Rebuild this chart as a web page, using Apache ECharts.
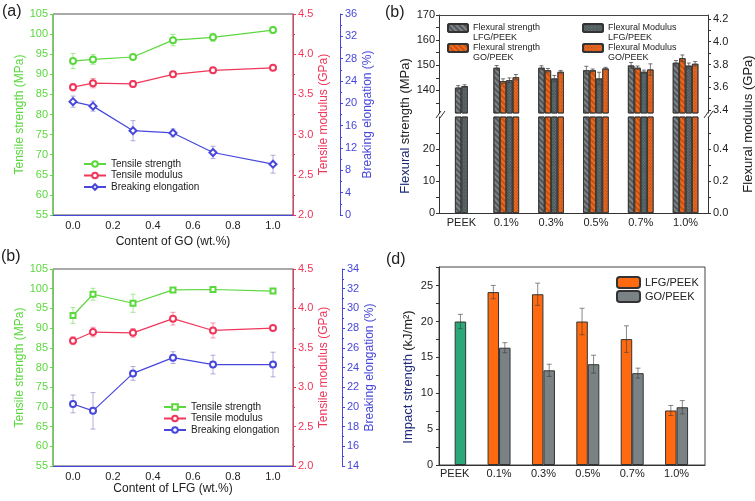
<!DOCTYPE html>
<html><head><meta charset="utf-8">
<script src="https://cdn.jsdelivr.net/npm/echarts@6/dist/echarts.min.js"></script>
<style>html,body{margin:0;padding:0;background:#fff}#c{width:755px;height:501px}</style>
</head><body><div id="c"></div>
<script>
// ================= DATA =================
// (a) GO/PEEK tensile
const goContent = [0, 0.1, 0.3, 0.5, 0.7, 1.0];
const goTensileStrength = [93.3, 93.7, 94.3, 98.5, 99.2, 101.0];
const goTensileStrengthErr = [1.9, 1.2, 0.4, 1.4, 1.0, 0.8];
const goTensileModulus = [3.59, 3.64, 3.63, 3.75, 3.80, 3.83];
const goTensileModulusErr = [0.045, 0.058, 0.04, 0.02, 0.025, 0.015];
const goElongation = [20.3, 19.5, 15.1, 14.7, 11.2, 9.1];
const goElongationErr = [1.0, 0.9, 1.8, 0.7, 1.1, 1.6];

// (b, bottom-left) LFG/PEEK tensile
const lfgContent = [0, 0.1, 0.3, 0.5, 0.7, 1.0];
const lfgTensileStrength = [93.2, 98.6, 96.3, 99.7, 99.8, 99.4];
const lfgTensileStrengthErr = [2.0, 1.5, 2.3, 0.3, 0.3, 0.3];
const lfgTensileModulus = [3.59, 3.70, 3.69, 3.87, 3.72, 3.75];
const lfgTensileModulusErr = [0.05, 0.06, 0.055, 0.08, 0.095, 0.03];
const lfgElongation = [20.3, 19.6, 23.4, 25.0, 24.3, 24.3];
const lfgElongationErr = [0.9, 1.85, 0.7, 0.6, 0.95, 1.25];

const xTickValues = [0, 0.2, 0.4, 0.6, 0.8, 1.0];

// (b, top-right) flexural
const flexCats = ['PEEK', '0.1%', '0.3%', '0.5%', '0.7%', '1.0%'];
const peekFlexStrength = 141.1, peekFlexStrengthErr = 0.8;
const peekFlexModulus = 3.61, peekFlexModulusErr = 0.012;
const flexStrengthLFG = [149.0, 149.0, 148.0, 149.9, 151.0];
const flexStrengthLFGErr = [0.9, 0.8, 1.6, 1.2, 0.9];
const flexStrengthGO = [143.7, 148.0, 148.0, 149.0, 152.8];
const flexStrengthGOErr = [0.9, 0.7, 0.5, 0.7, 1.3];
const flexModulusLFG = [3.662, 3.677, 3.677, 3.736, 3.790];
const flexModulusLFGErr = [0.02, 0.027, 0.055, 0.015, 0.023];
const flexModulusGO = [3.688, 3.736, 3.765, 3.756, 3.806];
const flexModulusGOErr = [0.024, 0.012, 0.01, 0.05, 0.02];
const flexUpperLeftLabels = [140, 150, 160, 170];
const flexUpperLeftTicks = [135, 140, 145, 150, 155, 160, 165, 170];
const flexUpperRightLabels = [3.4, 3.6, 3.8, 4.0, 4.2];
const flexUpperRightTicks = [3.4, 3.5, 3.6, 3.7, 3.8, 3.9, 4.0, 4.1, 4.2];
const flexLowerLeftLabels = [0, 10, 20];
const flexLowerLeftTicks = [0, 5, 10, 15, 20, 25];
const flexLowerRightLabels = [0, 0.2, 0.4];
const flexLowerRightTicks = [0, 0.1, 0.2, 0.3, 0.4, 0.5];

// (d) impact
const impactCats = ['PEEK', '0.1%', '0.3%', '0.5%', '0.7%', '1.0%'];
const impactPEEK = 20.0, impactPEEKErr = 1.0;
const impactLFG = [24.1, 23.8, 20.0, 17.55, 7.6];
const impactLFGErr = [0.93, 1.55, 1.85, 1.85, 0.7];
const impactGO = [16.35, 13.2, 14.05, 12.8, 8.05];
const impactGOErr = [0.7, 0.85, 1.25, 0.7, 0.93];
const impactLabels = [0, 5, 10, 15, 20, 25];
const impactTicks = [0, 2.5, 5, 7.5, 10, 12.5, 15, 17.5, 20, 22.5, 25, 27.5];

// ================= STYLE =================
const FF = "'Liberation Sans', Arial, sans-serif";
const GREEN = '#5bd83e', RED = '#f0365a', BLUE = '#4747dc', DARK = '#333';
const ORANGE = '#ff6a10', GREYBAR = '#7a8286', TEAL = '#2aa87a';

const hatch = (c) => ({symbol: 'rect', symbolSize: 1, dashArrayX: [1, 0], dashArrayY: [1.2, 1.8], rotation: Math.PI / 4, color: c});
const checker = (c) => ({symbol: 'rect', symbolSize: 1, dashArrayX: [1, 1], dashArrayY: [1, 1], rotation: Math.PI / 4, color: c});
const STY_SL = {color: '#7d8386', borderColor: DARK, borderWidth: 0.8, decal: hatch('rgba(30,30,30,0.45)')};
const STY_SG = {color: '#f26a1b', borderColor: DARK, borderWidth: 0.8, decal: hatch('rgba(110,35,0,0.35)')};
const STY_ML = {color: '#4d585b', borderColor: DARK, borderWidth: 0.8, decal: checker('rgba(160,170,170,0.45)')};
const STY_MG = {color: '#ec6a23', borderColor: DARK, borderWidth: 0.8, decal: checker('rgba(110,35,0,0.5)')};

function errorBars(xAxisIndex, yAxisIndex, data, color, offsetPx, capHalf) {
  return {
    type: 'custom', xAxisIndex, yAxisIndex, silent: true, z: 3,
    data,
    renderItem: (params, api) => {
      const x = api.value(0), y = api.value(1), e = api.value(2);
      const top = api.coord([x, y + e]), bot = api.coord([x, y - e]);
      const cx = top[0] + offsetPx;
      const st = {stroke: color, lineWidth: 1};
      return {type: 'group', children: [
        {type: 'line', shape: {x1: cx, y1: top[1], x2: cx, y2: bot[1]}, style: st},
        {type: 'line', shape: {x1: cx - capHalf, y1: top[1], x2: cx + capHalf, y2: top[1]}, style: st},
        {type: 'line', shape: {x1: cx - capHalf, y1: bot[1], x2: cx + capHalf, y2: bot[1]}, style: st}
      ]};
    }
  };
}
const zip3 = (xs, ys, es) => xs.map((x, i) => [x, ys[i], es[i]]);
const zip2 = (xs, ys) => xs.map((x, i) => [x, ys[i]]);

function lineX(grid, name, gap) {
  return {gridIndex: grid, type: 'value', min: -0.1, max: 1.1,
    axisLine: {show: true, lineStyle: {color: BLUE, width: 1}}, axisTick: {show: false}, splitLine: {show: false},
    axisLabel: {customValues: xTickValues, formatter: v => v.toFixed(1), color: '#222', fontSize: 11, margin: 5, fontFamily: FF},
    name, nameLocation: 'middle', nameGap: gap, nameTextStyle: {fontSize: 12, color: '#222', fontFamily: FF}};
}
function lineY(grid, pos, offset, min, max, interval, color, name, gap, minor, fmt) {
  return {gridIndex: grid, type: 'value', position: pos, offset, min, max, interval,
    axisLine: {show: true, onZero: false, lineStyle: {color, width: 1}},
    axisTick: {show: true, length: 3, lineStyle: {color}},
    minorTick: {show: minor, splitNumber: 2, length: 2, lineStyle: {color}},
    splitLine: {show: false}, minorSplitLine: {show: false},
    axisLabel: {color, fontSize: 11, margin: 5, fontFamily: FF, formatter: fmt},
    name, nameLocation: 'middle', nameRotate: 90, nameGap: gap,
    nameTextStyle: {color, fontSize: 12, fontFamily: FF}};
}
function customY(grid, pos, min, max, labels, ticks, margin, fmt) {
  return {gridIndex: grid, type: 'value', position: pos, min, max,
    axisLine: {show: true, onZero: false, lineStyle: {color: '#333', width: 1}},
    axisTick: {show: true, length: 3, customValues: ticks, lineStyle: {color: '#333'}},
    splitLine: {show: false},
    axisLabel: {customValues: labels, color: '#222', fontSize: 11, margin, fontFamily: FF, formatter: fmt}};
}

const fmt1 = v => v.toFixed(1);

const series = [];
// ---- (a) ----
series.push({type: 'line', name: 'Tensile strength', xAxisIndex: 0, yAxisIndex: 0, data: zip2(goContent, goTensileStrength), symbol: 'emptyCircle', symbolSize: 6, color: GREEN, lineStyle: {width: 1.2}, z: 4});
series.push({type: 'line', name: 'Tensile modulus', xAxisIndex: 0, yAxisIndex: 1, data: zip2(goContent, goTensileModulus), symbol: 'emptyCircle', symbolSize: 6, color: RED, lineStyle: {width: 1.2}, z: 4});
series.push({type: 'line', name: 'Breaking elongation', xAxisIndex: 0, yAxisIndex: 2, data: zip2(goContent, goElongation), symbol: 'emptyDiamond', symbolSize: 7, color: BLUE, lineStyle: {width: 1.2}, z: 4});
series.push(errorBars(0, 0, zip3(goContent, goTensileStrength, goTensileStrengthErr), 'rgba(91,216,62,0.55)', 0, 2.5));
series.push(errorBars(0, 1, zip3(goContent, goTensileModulus, goTensileModulusErr), 'rgba(240,54,90,0.5)', 0, 2.5));
series.push(errorBars(0, 2, zip3(goContent, goElongation, goElongationErr), 'rgba(110,110,190,0.55)', 0, 2.5));
// ---- (b) bottom-left ----
series.push({type: 'line', name: 'Tensile strength ', xAxisIndex: 1, yAxisIndex: 3, data: zip2(lfgContent, lfgTensileStrength), symbol: 'emptyRect', symbolSize: 5, color: GREEN, lineStyle: {width: 1.2}, z: 4});
series.push({type: 'line', name: 'Tensile modulus ', xAxisIndex: 1, yAxisIndex: 4, data: zip2(lfgContent, lfgTensileModulus), symbol: 'emptyCircle', symbolSize: 6, color: RED, lineStyle: {width: 1.2}, z: 4});
series.push({type: 'line', name: 'Breaking elongation ', xAxisIndex: 1, yAxisIndex: 5, data: zip2(lfgContent, lfgElongation), symbol: 'emptyCircle', symbolSize: 6, color: BLUE, lineStyle: {width: 1.2}, z: 4});
series.push(errorBars(1, 3, zip3(lfgContent, lfgTensileStrength, lfgTensileStrengthErr), 'rgba(91,216,62,0.55)', 0, 2.5));
series.push(errorBars(1, 4, zip3(lfgContent, lfgTensileModulus, lfgTensileModulusErr), 'rgba(240,54,90,0.5)', 0, 2.5));
series.push(errorBars(1, 5, zip3(lfgContent, lfgElongation, lfgElongationErr), 'rgba(110,110,190,0.55)', 0, 2.5));

// ---- (b) top-right flexural, two broken-axis grids ----
const FBW = 6.4;
const flexSeries = (xi, yl, yr) => [
  {type: 'bar', name: 'Flexural strength LFG/PEEK', xAxisIndex: xi, yAxisIndex: yl, barWidth: FBW, barGap: '0%', itemStyle: STY_SL,
    data: ['-', ...flexStrengthLFG]},
  {type: 'bar', name: 'Flexural strength GO/PEEK', xAxisIndex: xi, yAxisIndex: yl, barWidth: FBW, barGap: '0%', itemStyle: STY_SG,
    data: [{value: peekFlexStrength, itemStyle: STY_SL}, ...flexStrengthGO]},
  {type: 'bar', name: 'Flexural Modulus LFG/PEEK', xAxisIndex: xi, yAxisIndex: yr, barWidth: FBW, barGap: '0%', itemStyle: STY_ML,
    data: [peekFlexModulus, ...flexModulusLFG]},
  {type: 'bar', name: 'Flexural Modulus GO/PEEK', xAxisIndex: xi, yAxisIndex: yr, barWidth: FBW, barGap: '0%', itemStyle: STY_MG,
    data: ['-', ...flexModulusGO]}
];
series.push(...flexSeries(2, 6, 7));
series.push(...flexSeries(3, 8, 9));
const cats5 = flexCats.slice(1);
const EC = 'rgba(70,70,70,0.75)';
series.push(errorBars(2, 6, zip3(cats5, flexStrengthLFG, flexStrengthLFGErr), EC, -1.5 * FBW, 2));
series.push(errorBars(2, 6, [['PEEK', peekFlexStrength, peekFlexStrengthErr], ...zip3(cats5, flexStrengthGO, flexStrengthGOErr)], EC, -0.5 * FBW, 2));
series.push(errorBars(2, 7, [['PEEK', peekFlexModulus, peekFlexModulusErr], ...zip3(cats5, flexModulusLFG, flexModulusLFGErr)], EC, 0.5 * FBW, 2));
series.push(errorBars(2, 7, zip3(cats5, flexModulusGO, flexModulusGOErr), EC, 1.5 * FBW, 2));

// ---- (d) impact ----
const IBW = 11.5;
series.push({type: 'bar', name: 'LFG/PEEK', xAxisIndex: 4, yAxisIndex: 10, barWidth: IBW, barGap: '0%',
  itemStyle: {color: ORANGE, borderColor: DARK, borderWidth: 1},
  data: impactLFG.map((v, i) => [i + 1, v])});
series.push({type: 'bar', name: 'GO/PEEK', xAxisIndex: 4, yAxisIndex: 10, barWidth: IBW, barGap: '0%',
  itemStyle: {color: GREYBAR, borderColor: DARK, borderWidth: 1},
  data: [{value: [0, impactPEEK], itemStyle: {color: TEAL}}, ...impactGO.map((v, i) => [i + 1, v])]});
series.push(errorBars(4, 10, impactLFG.map((v, i) => [i + 1, v, impactLFGErr[i]]), 'rgba(60,60,60,0.6)', -IBW / 2, 2.5));
series.push(errorBars(4, 10, [[0, impactPEEK, impactPEEKErr], ...impactGO.map((v, i) => [i + 1, v, impactGOErr[i]])], 'rgba(60,60,60,0.6)', IBW / 2, 2.5));

// first (empty) line keeps the icon beside the first text line
const legendFmt = n => '\n' + n.replace(' LFG/', '\nLFG/').replace(' GO/', '\nGO/');
const flexLegend = (name, left, top) => ({
  left, top, padding: 0, itemWidth: 20, itemHeight: 8, itemGap: 0, selectedMode: false,
  data: [name], formatter: legendFmt,
  textStyle: {fontSize: 9, lineHeight: 10, color: '#222', fontFamily: FF}
});
const lineLegend = (names, left, top) => ({
  left, top, orient: 'vertical', padding: 0, itemWidth: 22, itemHeight: 7, itemGap: 1.5, selectedMode: false,
  data: names, textStyle: {fontSize: 10, color: '#222', fontFamily: FF}
});

const option = {
  animation: false,
  textStyle: {fontFamily: FF},
  grid: [
    {left: 53, top: 14, width: 240, height: 201, show: true, borderColor: '#555', borderWidth: 1},
    {left: 53, top: 269, width: 240, height: 197, show: true, borderColor: '#555', borderWidth: 1},
    {left: 439, top: 15, width: 269, height: 98},
    {left: 439, top: 117, width: 269, height: 96},
    {left: 439, top: 267, width: 266, height: 198, show: true, borderColor: '#444', borderWidth: 1}
  ],
  xAxis: [
    lineX(0, 'Content of GO (wt.%)', 21),
    lineX(1, 'Content of LFG (wt.%)', 15),
    {gridIndex: 2, type: 'category', data: flexCats, position: 'top',
      axisLine: {show: true, lineStyle: {color: '#444'}}, axisTick: {show: false}, axisLabel: {show: false}},
    {gridIndex: 3, type: 'category', data: flexCats, position: 'bottom',
      axisLine: {show: true, lineStyle: {color: '#333'}}, axisTick: {show: false},
      axisLabel: {color: '#222', fontSize: 11, margin: 4, fontFamily: FF}},
    {gridIndex: 4, type: 'value', min: -0.353, max: 5.64,
      axisLine: {show: true, lineStyle: {color: '#333'}}, axisTick: {show: false}, splitLine: {show: false},
      axisLabel: {customValues: [0, 1, 2, 3, 4, 5], formatter: v => impactCats[Math.round(v)], color: '#222', fontSize: 11, margin: 3, fontFamily: FF}}
  ],
  yAxis: [
    lineY(0, 'left', 0, 55, 105, 5, GREEN, 'Tensile strength (MPa)', 21, false),
    lineY(0, 'right', 0, 2.0, 4.5, 0.5, RED, 'Tensile modulus (GPa)', 23, true, fmt1),
    lineY(0, 'right', 47, 0, 36, 4, BLUE, 'Breaking elongation (%)', 22, true),
    lineY(1, 'left', 0, 55, 105, 5, GREEN, 'Tensile strength (MPa)', 21, false),
    lineY(1, 'right', 0, 2.0, 4.5, 0.5, RED, 'Tensile modulus (GPa)', 23, true, fmt1),
    lineY(1, 'right', 49, 14, 34, 2, BLUE, 'Breaking elongation (%)', 22, true),
    customY(2, 'left', 131, 170, flexUpperLeftLabels, flexUpperLeftTicks, 4),
    customY(2, 'right', 3.374, 4.235, flexUpperRightLabels, flexUpperRightTicks, 5, fmt1),
    customY(3, 'left', 0, 30, flexLowerLeftLabels, flexLowerLeftTicks, 4),
    customY(3, 'right', 0, 0.6, flexLowerRightLabels, flexLowerRightTicks, 5, fmt1),
    customY(4, 'left', 0, 27.6, impactLabels, impactTicks, 6)
  ],
  legend: [
    lineLegend(['Tensile strength', 'Tensile modulus', 'Breaking elongation'], 83, 159),
    lineLegend(['Tensile strength ', 'Tensile modulus ', 'Breaking elongation '], 163, 402),
    flexLegend('Flexural strength LFG/PEEK', 447, 13),
    flexLegend('Flexural strength GO/PEEK', 447, 33),
    flexLegend('Flexural Modulus LFG/PEEK', 582, 13),
    flexLegend('Flexural Modulus GO/PEEK', 582, 33),
    {left: 616, top: 276, orient: 'vertical', padding: 0, itemWidth: 23, itemHeight: 11, itemGap: 1, selectedMode: false,
      data: ['LFG/PEEK', 'GO/PEEK'], textStyle: {fontSize: 11, color: '#222', fontFamily: FF}}
  ],
  graphic: [
    {type: 'text', x: 2, y: 12, style: {text: '(a)', font: '16px ' + FF, fill: '#222', verticalAlign: 'middle'}},
    {type: 'text', x: 385, y: 13, style: {text: '(b)', font: '16px ' + FF, fill: '#222', verticalAlign: 'middle'}},
    {type: 'text', x: 1, y: 257, style: {text: '(b)', font: '16px ' + FF, fill: '#222', verticalAlign: 'middle'}},
    {type: 'text', x: 386, y: 260, style: {text: '(d)', font: '16px ' + FF, fill: '#222', verticalAlign: 'middle'}},
    {type: 'text', x: 405, y: 126, rotation: Math.PI / 2, style: {
      text: '{b|Flexural} {k|strength (MPa)}', align: 'center', verticalAlign: 'middle',
      rich: {b: {fill: '#1d2a7a', fontSize: 13, fontFamily: FF}, k: {fill: '#222', fontSize: 13, fontFamily: FF}}}},
    {type: 'text', x: 748, y: 124, rotation: Math.PI / 2, style: {
      text: 'Flexural modulus (GPa)', align: 'center', verticalAlign: 'middle', font: '13px ' + FF, fill: '#222'}},
    {type: 'text', x: 408, y: 377, rotation: Math.PI / 2, style: {
      text: '{b|Impact strength} {k|(kJ/m²)}', align: 'center', verticalAlign: 'middle',
      rich: {b: {fill: '#1d2a7a', fontSize: 13, fontFamily: FF}, k: {fill: '#222', fontSize: 13, fontFamily: FF}}}},
    // axis break marks
    {type: 'line', shape: {x1: 436, y1: 118, x2: 441, y2: 111}, style: {stroke: '#333', lineWidth: 1}},
    {type: 'line', shape: {x1: 440, y1: 118, x2: 445, y2: 111}, style: {stroke: '#333', lineWidth: 1}},
    {type: 'line', shape: {x1: 704, y1: 118, x2: 709, y2: 111}, style: {stroke: '#333', lineWidth: 1}},
    {type: 'line', shape: {x1: 708, y1: 118, x2: 713, y2: 111}, style: {stroke: '#333', lineWidth: 1}}
  ],
  series
};
const chart = echarts.init(document.getElementById('c'), null, {renderer: 'canvas'});
chart.setOption(option);
</script></body></html>
